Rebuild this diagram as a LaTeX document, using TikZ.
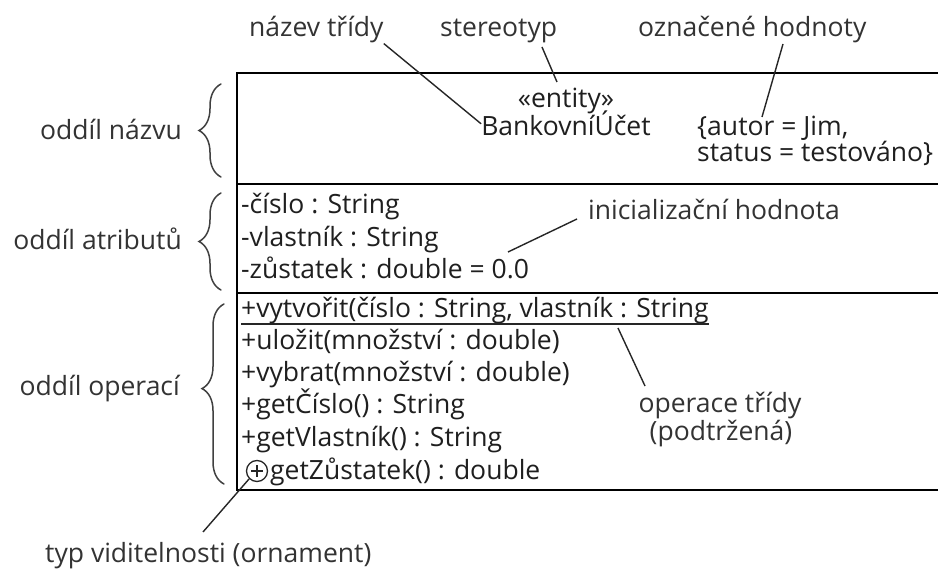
\documentclass[tikz,border=0pt]{standalone}
\usepackage{fontspec}
\setmainfont{Open Sans}
\usetikzlibrary{decorations.pathreplacing}
\begin{document}
\begin{tikzpicture}[x=1pt,y=-1pt,
  txt/.style={inner sep=0pt, font=\fontsize{26.5}{31}\selectfont, text=black!88},
  lbl/.style={txt, text=black!80},
  boxline/.style={line width=2.6pt, black},
  leader/.style={line width=1.4pt, black!85},
  curly/.style={line width=1.5pt, black!75, line cap=round,
    decorate, decoration={brace, amplitude=22pt, aspect=#1}},
  curly/.default=0.5]

% page
\useasboundingbox (0,0) rectangle (938,569);
\fill[white] (0,0) rectangle (938,569);

% class box (the right side runs past the page edge)
\coordinate (tl) at (237,73);
\coordinate (bl) at (237,490);
\coordinate (d1) at (237,184);
\coordinate (d2) at (237,293);
\draw[boxline] (960,73) -- (tl) -- (bl) -- (960,490);
\draw[boxline] (d1) -- (960,184);
\draw[boxline] (d2) -- (960,293);

% name compartment
\node[txt, anchor=base] (stereo) at (566,108) {«entity»};
\node[txt, anchor=base] (bank) at (566,136) {BankovníÚčet};
\node[txt, anchor=base west] (tag1) at (697,136) {\{autor = Jim,};
\node[txt, anchor=base west] (tag2) at (697,162) {status = testováno\}};

% attribute compartment
\node[txt, anchor=base west] (a1) at (241,214) {-číslo : String};
\node[txt, anchor=base west] (a2) at (241,247) {-vlastník : String};
\node[txt, anchor=base west] (a3) at (241,279) {-zůstatek : double = 0.0};

% operation compartment
\node[txt, anchor=base west] (o1) at (241,318) {+vytvořit(číslo : String, vlastník : String};
\draw[line width=1.2pt, black!85] ([yshift=-6pt]o1.base west) -- ([yshift=-6pt]o1.base east);
\node[txt, anchor=base west] (o2) at (241,350) {+uložit(množství : double)};
\node[txt, anchor=base west] (o3) at (241,382) {+vybrat(množství : double)};
\node[txt, anchor=base west] (o4) at (241,414) {+getČíslo() : String};
\node[txt, anchor=base west] (o5) at (241,447) {+getVlastník() : String};
\node[circle, draw=black!85, line width=1.3pt, minimum size=21pt, inner sep=0pt] (vis) at (257,471) {};
\draw[line width=1.3pt, black!85] ([xshift=-6pt]vis.center) -- ([xshift=6pt]vis.center)
  ([yshift=-6pt]vis.center) -- ([yshift=6pt]vis.center);
\node[txt, anchor=base west] (o6) at (270,479) {getZůstatek() : double};

% top labels
\node[lbl, anchor=base west] (nazev) at (249,37) {název třídy};
\node[lbl, anchor=base west] (stlbl) at (440,37) {stereotyp};
\node[lbl, anchor=base west] (tglbl) at (638,37) {označené hodnoty};

% side labels with braces
\node[lbl, anchor=base east] (secname) at (182,140) {oddíl názvu};
\node[lbl, anchor=base east] (secattr) at (182,250) {oddíl atributů};
\node[lbl, anchor=base east] (secop) at (180,396) {oddíl operací};
\draw[curly] (221,177) -- (221,84);
\draw[curly] (221,290) -- (221,193);
\draw[curly=0.53] (224,484) -- (224,304);

% notes
\node[lbl, anchor=base west] (init) at (588,220) {inicializační hodnota};
\node[lbl, anchor=base] (clsop1) at (720,413) {operace třídy};
\node[lbl, anchor=base] (clsop2) at (721,441) {(podtržená)};
\node[lbl, anchor=base west] (vislbl) at (45,562) {typ viditelnosti (ornament)};

% leader lines
\coordinate (st1) at (542,47);
\coordinate (st2) at (557,82);
\coordinate (tg1) at (783,44);
\coordinate (tg2) at (762,117);
\coordinate (in1) at (577,219);
\coordinate (in2) at (508,252);
\coordinate (cl1) at (618,328);
\coordinate (cl2) at (645,386);
\coordinate (vs2) at (203,532);
\draw[leader] (nazev.south east) -- (bank.west);
\draw[leader] (st1) -- (st2);
\draw[leader] (tg1) -- (tg2);
\draw[leader] (in1) -- (in2);
\draw[leader] (cl1) -- (cl2);
\draw[leader] (vis.225) -- (vs2);
\end{tikzpicture}
\end{document}
